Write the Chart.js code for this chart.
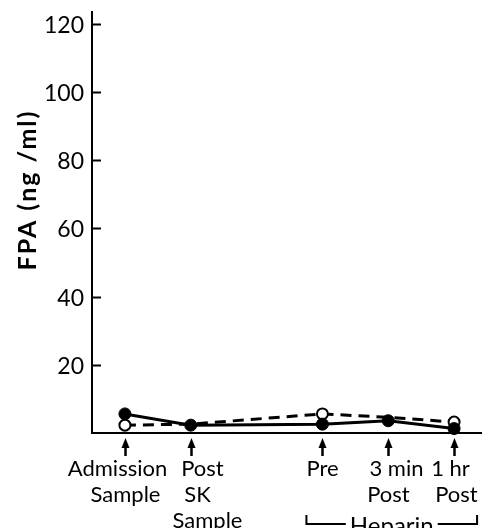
<!DOCTYPE html>
<html>
<head>
<meta charset="utf-8">
<script src="https://cdn.jsdelivr.net/npm/chart.js@4/dist/chart.umd.min.js"></script>
<style>
html,body{margin:0;padding:0;background:#fff;}
#wrap{width:482px;height:528px;position:relative;}
</style>
</head>
<body>
<div id="wrap"><canvas id="c" width="482" height="528"></canvas></div>
<script>
// ---- data ----
const categories = [["Admission","Sample"],["Post","SK","Sample"],["Pre"],["3 min","Post"],["1 hr","Post"]];
const xPositions = [0, 1, 3, 4, 5];
const solidValues = [5.6, 2.3, 2.6, 3.6, 1.3];
const dashedValues = [2.3, 2.6, 5.6, 4.6, 3.2];
const dashedMarkerShown = [true, false, true, false, true];
const yTicks = [20, 40, 60, 80, 100, 120];
const yTitle = "FPA (ng /ml)";
const bracketLabel = "Heparin";
const bracketFrom = 3, bracketTo = 5;

const FONT = "Lato, 'DejaVu Sans', sans-serif";
// per-line horizontal nudges of the category labels (layout only)
const lineNudge = [[-8, 0], [11, 6, 16], [0], [8, 0], [-4, 2]];

const decor = {
  id: 'decor',
  afterDraw(chart) {
    const ctx = chart.ctx;
    const xs = chart.scales.x, ys = chart.scales.y;
    const ca = chart.chartArea;
    const left = ca.left;
    ctx.save();
    ctx.fillStyle = '#000';
    ctx.strokeStyle = '#000';
    // extend x axis line to the right edge
    ctx.lineWidth = 2;
    const yb = ys.getPixelForValue(0);
    ctx.beginPath(); ctx.moveTo(ca.right - 1, yb); ctx.lineTo(chart.width, yb); ctx.stroke();
    // y ticks (inside) and labels
    ctx.font = '23px ' + FONT;
    ctx.textAlign = 'right';
    ctx.textBaseline = 'middle';
    yTicks.forEach(v => {
      const y = Math.round(ys.getPixelForValue(v)) + 0.5;
      ctx.beginPath(); ctx.moveTo(left, y); ctx.lineTo(left + 9, y); ctx.stroke();
      ctx.fillText(String(v), left - 8, y + 1);
    });
    // y title
    ctx.save();
    ctx.translate(28, 190);
    ctx.rotate(-Math.PI / 2);
    ctx.font = 'bold 25px ' + FONT;
    ctx.letterSpacing = '2px';
    ctx.textAlign = 'center';
    ctx.textBaseline = 'middle';
    ctx.fillText(yTitle, 0, 0);
    ctx.restore();
    // arrows + category labels
    ctx.font = '22px ' + FONT;
    ctx.textAlign = 'center';
    ctx.textBaseline = 'alphabetic';
    xPositions.forEach((p, i) => {
      const x = Math.round(xs.getPixelForValue(p)) + 0.5;
      ctx.lineWidth = 2.5;
      ctx.beginPath(); ctx.moveTo(x, 456); ctx.lineTo(x, 444); ctx.stroke();
      ctx.beginPath(); ctx.moveTo(x - 4, 448); ctx.lineTo(x, 438); ctx.lineTo(x + 4, 448); ctx.closePath(); ctx.fill();
      categories[i].forEach((line, j) => {
        ctx.fillText(line, x + lineNudge[i][j], 476 + j * 26);
      });
    });
    // heparin bracket
    const bx1 = xs.getPixelForValue(bracketFrom) - 16;
    const bx2 = xs.getPixelForValue(bracketTo) + 23;
    const by = 524;
    ctx.font = '24px ' + FONT;
    const tw = ctx.measureText(bracketLabel).width;
    const mid = (bx1 + bx2) / 2;
    ctx.lineWidth = 2;
    ctx.beginPath();
    ctx.moveTo(bx1, by - 9); ctx.lineTo(bx1, by); ctx.lineTo(mid - tw / 2 - 4, by);
    ctx.moveTo(mid + tw / 2 + 4, by); ctx.lineTo(bx2, by); ctx.lineTo(bx2, by - 9);
    ctx.stroke();
    ctx.textBaseline = 'alphabetic';
    ctx.fillText(bracketLabel, mid, by + 10);
    ctx.restore();
  }
};

const toPts = vals => vals.map((v, i) => ({x: xPositions[i], y: v}));

new Chart(document.getElementById('c'), {
  type: 'line',
  data: {
    datasets: [
      {
        data: toPts(solidValues),
        borderColor: '#000', borderWidth: 3,
        pointBackgroundColor: '#000', pointBorderColor: '#000',
        pointRadius: 6, pointBorderWidth: 1,
        tension: 0, clip: false, order: 1
      },
      {
        data: toPts(dashedValues),
        borderColor: '#000', borderWidth: 3, borderDash: [11, 7],
        pointBackgroundColor: '#fff', pointBorderColor: '#000',
        pointRadius: dashedMarkerShown.map(s => s ? 5.5 : 0), pointBorderWidth: 2,
        tension: 0, clip: false, order: 2
      }
    ]
  },
  options: {
    responsive: false,
    animation: false,
    events: [],
    layout: {padding: {left: 92, top: 12, right: 0, bottom: 95}},
    plugins: {legend: {display: false}, tooltip: {enabled: false}},
    scales: {
      x: {
        type: 'linear', min: -0.5, max: 5.31,
        grid: {display: false, drawTicks: false},
        border: {display: true, color: '#000', width: 2},
        ticks: {display: false}
      },
      y: {
        type: 'linear', min: 0, max: 123.5,
        grid: {display: false, drawTicks: false},
        border: {display: true, color: '#000', width: 2},
        ticks: {display: false}
      }
    }
  },
  plugins: [decor]
});
</script>
</body>
</html>
